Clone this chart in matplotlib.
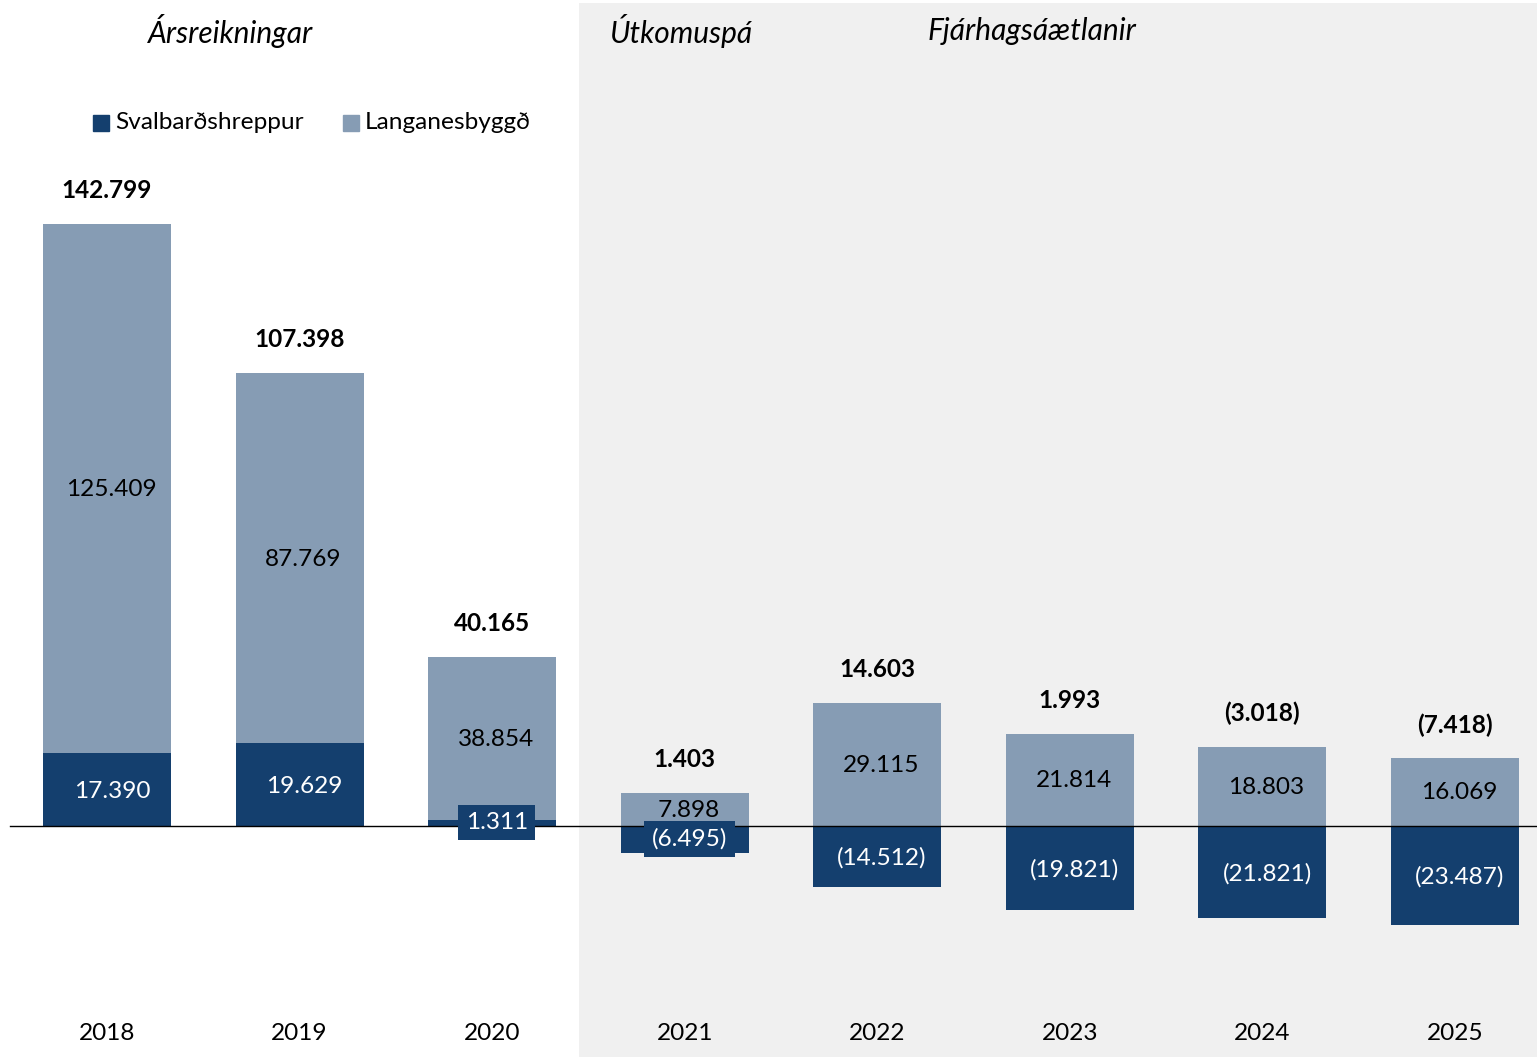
import matplotlib
matplotlib.use("Agg")
import matplotlib.pyplot as plt

years = ["2018", "2019", "2020", "2021", "2022", "2023", "2024", "2025"]
svalbard = [17.390, 19.629, 1.311, -6.495, -14.512, -19.821, -21.821, -23.487]
langanes = [125.409, 87.769, 38.854, 7.898, 29.115, 21.814, 18.803, 16.069]
totals = [142.799, 107.398, 40.165, 1.403, 14.603, 1.993, -3.018, -7.418]
section_titles = ["Ársreikningar", "Útkomuspá", "Fjárhagsáætlanir"]
series_names = ["Svalbarðshreppur", "Langanesbyggð"]

NAVY = "#143F6E"
LIGHT = "#869CB4"
BG = "#F0F0F0"
FONT = ["Lato", "DejaVu Sans"]
FS = 17.6

def fmt(v):
    s = f"{abs(v):.3f}"
    return f"({s})" if v < 0 else s

fig = plt.figure(figsize=(15.37, 10.57), dpi=100)
ax = fig.add_axes([0, 0, 1, 1])
ax.set_xlim(-0.5557, 7.426)
ax.set_ylim(-54.79, 195.9)
ax.axis("off")

# shaded forecast/budget region
ax.axvspan(2.451, 7.426, ymin=0, ymax=0.997, color=BG, zorder=0, lw=0)

x = list(range(len(years)))
w = 0.665
pos_base = [max(s, 0) for s in svalbard]
ax.bar(x, svalbard, width=w, color=NAVY, zorder=2)
ax.bar(x, langanes, width=w, bottom=pos_base, color=LIGHT, zorder=2)

ax.plot([-0.504, 7.426], [0, 0], color="black", lw=1, zorder=3)

for i in x:
    s = svalbard[i]
    l = langanes[i]
    ys = s / 2
    if abs(s) < 8:
        ys = s / 2 + (0.6 if s > 0 else 0.6)
    ax.text(i + 0.025, ys - 0.4, fmt(s), ha="center", va="center", color="white",
            fontsize=FS, family=FONT, zorder=5,
            bbox=dict(boxstyle="square,pad=0.3", fc=NAVY, ec="none"))
    b = pos_base[i]
    ax.text(i + 0.02, b + l / 2 - 0.2, fmt(l), ha="center", va="center", color="black",
            fontsize=FS, family=FONT, zorder=4)
    ax.text(i, b + l + 7.9, fmt(totals[i]), ha="center", va="center", color="black",
            fontsize=FS, fontweight="bold", family=FONT, zorder=4)
    ax.text(i, -49.2, years[i], ha="center", va="center", color="black",
            fontsize=FS, family=FONT)

# section titles
title_x = [(231 - 107) / 192.57, (682 - 107) / 192.57, (1032 - 107) / 192.57]
for t, tx in zip(section_titles, title_x):
    ax.text(tx, (826 - 31) / 4.216, t, ha="center", va="center", fontsize=21.5,
            style="italic", family=FONT, color="black")

# legend
leg_y = (826 - 123) / 4.216
for name, col, px in zip(series_names, [NAVY, LIGHT], [93, 343]):
    x0 = (px - 107) / 192.57
    ax.add_patch(plt.Rectangle((x0, leg_y - 1.9), 16 / 192.57, 16 / 4.216,
                               color=col, zorder=4))
    ax.text(x0 + 22 / 192.57, leg_y, name, ha="left", va="center", fontsize=FS,
            family=FONT, color="black")

fig.savefig("out.png", dpi=100)
